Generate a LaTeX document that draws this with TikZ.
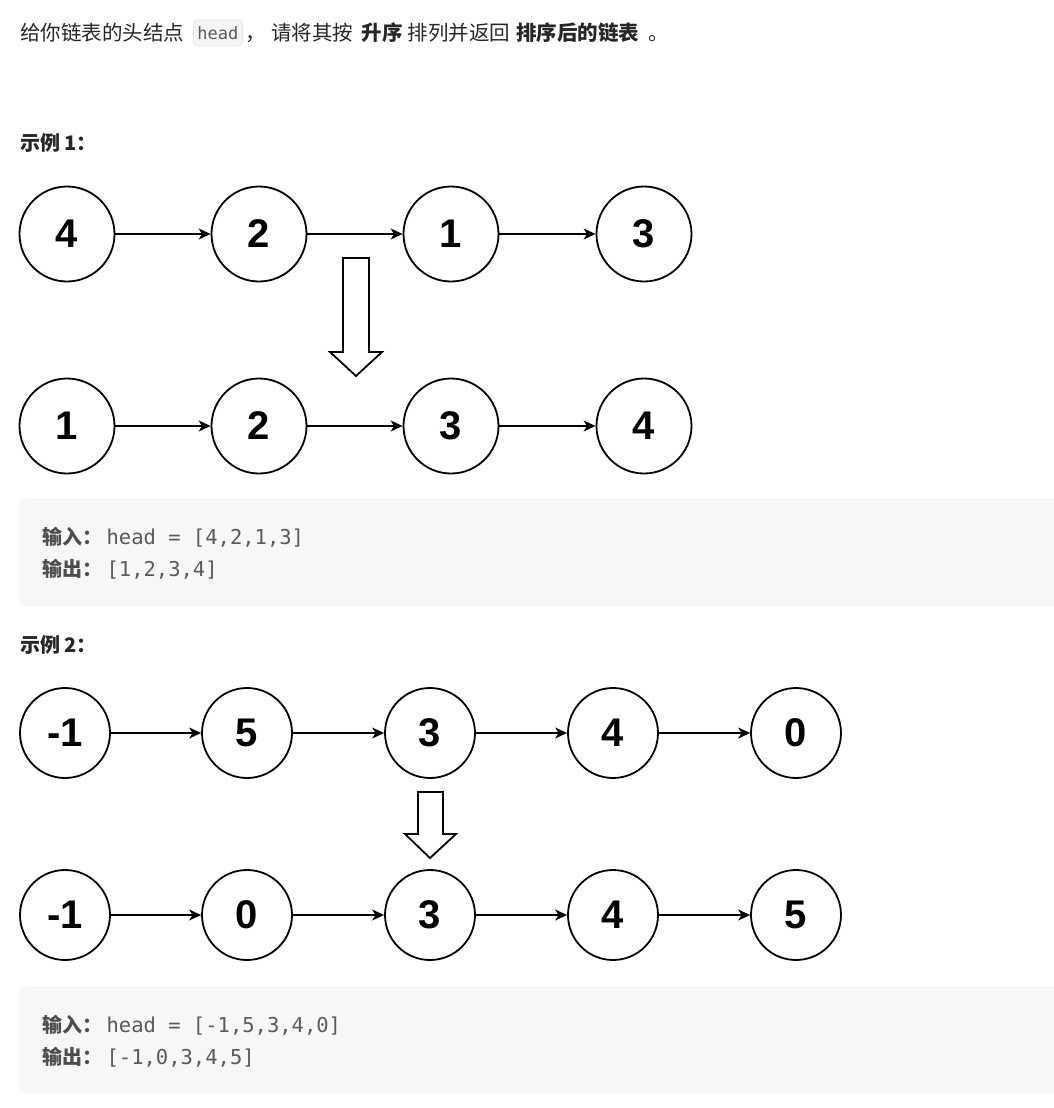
\documentclass[tikz,border=0pt]{standalone}
\usepackage{fontspec}
\setmainfont{Liberation Sans}
\newfontfamily\cjk{Noto Sans CJK SC}
\newfontfamily\mono{DejaVu Sans Mono}
\usetikzlibrary{arrows.meta}
\definecolor{txt}{HTML}{262626}
\definecolor{codegray}{HTML}{5A5A5A}
\definecolor{labgray}{HTML}{4D4D4D}
\definecolor{boxbg}{HTML}{F7F7F7}
\definecolor{codebg}{HTML}{F5F5F5}
\definecolor{codeline}{HTML}{E6E6E6}
\newcommand{\gapx}[1]{\hspace*{#1pt}}
\begin{document}
\begin{tikzpicture}[x=1pt,y=-1pt,
  nodeA/.style={circle,draw=black,line width=1.8pt,minimum size=95pt,inner sep=0pt,
    font=\fontsize{40}{40}\selectfont\bfseries},
  nodeB/.style={nodeA,minimum size=90pt},
  link/.style={line width=1.4pt,-{Stealth[length=12pt,width=11pt,inset=3.5pt]}},
  blockarrow/.style={draw=black,line width=1.8pt,fill=white,line join=miter},
  bodytext/.style={font=\cjk\fontsize{20.5}{20.5}\selectfont,text=txt,inner sep=0pt},
  labeltext/.style={font=\cjk\bfseries\fontsize{20}{20}\selectfont,text=txt,inner sep=0pt},
  codebox/.style={fill=codebg,draw=codeline,line width=0.8pt,rounded corners=4pt,
    font=\mono\fontsize{17}{17}\selectfont,text=codegray,inner xsep=4pt,
    minimum height=26pt,minimum width=49pt,inner ysep=0pt},
  panel/.style={fill=boxbg,draw=none,rounded corners=8pt},
  iotext/.style={inner sep=0pt,text=codegray,font=\mono\fontsize{20.5}{20.5}\selectfont},
  iolabel/.style={inner sep=0pt,text=labgray,font=\cjk\bfseries\fontsize{20}{20}\selectfont}
]
\useasboundingbox[fill=white] (0,0) rectangle (1054,1108);

% title line
\node[bodytext,anchor=base west] (t1) at (20,41) {给你链表的头结点};
\node[codebox,anchor=west] (code) at (193,33) {head};
\node[bodytext,anchor=base west] (t2) at ([xshift=2pt]code.east |- t1.base)
  {，\gapx{6}请将其按\gapx{8}{\bfseries 升序}\gapx{5}排列并返回\gapx{6}{\bfseries 排序后的链表}\gapx{9}。};

% example 1
\node[labeltext,anchor=base west] (ex1) at (20,150) {示例 1：};

\node[nodeA] (a1) at (67,234) {4};
\node[nodeA] (a2) at (259,234) {2};
\node[nodeA] (a3) at (451,234) {1};
\node[nodeA] (a4) at (644,234) {3};
\draw[link] (a1) -- (a2);
\draw[link] (a2) -- (a3);
\draw[link] (a3) -- (a4);

\node[nodeA] (b1) at (67,426) {1};
\node[nodeA] (b2) at (259,426) {2};
\node[nodeA] (b3) at (451,426) {3};
\node[nodeA] (b4) at (644,426) {4};
\draw[link] (b1) -- (b2);
\draw[link] (b2) -- (b3);
\draw[link] (b3) -- (b4);

\draw[blockarrow] (343,258) -- (369,258) -- (369,352) -- (382,352) -- (356,376)
  -- (330,352) -- (343,352) -- cycle;

\fill[panel] (18,498) rectangle (1070,606);
\node[iolabel,anchor=base west] (in1l) at (42,544) {输入：};
\node[iotext,anchor=base west] (in1) at ([xshift=4pt]in1l.base east) {head = [4,2,1,3]};
\node[iolabel,anchor=base west] (out1l) at (42,576) {输出：};
\node[iotext,anchor=base west] (out1) at ([xshift=4pt]out1l.base east) {[1,2,3,4]};

% example 2
\node[labeltext,anchor=base west] (ex2) at (20,652) {示例 2：};

\node[nodeB] (c1) at (65,733) {-1};
\node[nodeB] (c2) at (247,733) {5};
\node[nodeB] (c3) at (430,733) {3};
\node[nodeB] (c4) at (613,733) {4};
\node[nodeB] (c5) at (796,733) {0};
\draw[link] (c1) -- (c2);
\draw[link] (c2) -- (c3);
\draw[link] (c3) -- (c4);
\draw[link] (c4) -- (c5);

\node[nodeB] (d1) at (65,915) {-1};
\node[nodeB] (d2) at (247,915) {0};
\node[nodeB] (d3) at (430,915) {3};
\node[nodeB] (d4) at (613,915) {4};
\node[nodeB] (d5) at (796,915) {5};
\draw[link] (d1) -- (d2);
\draw[link] (d2) -- (d3);
\draw[link] (d3) -- (d4);
\draw[link] (d4) -- (d5);

\draw[blockarrow] (418,792) -- (443,792) -- (443,834) -- (456,834) -- (430,858)
  -- (405,834) -- (418,834) -- cycle;

\fill[panel] (18,986) rectangle (1070,1093);
\node[iolabel,anchor=base west] (in2l) at (42,1032) {输入：};
\node[iotext,anchor=base west] (in2) at ([xshift=4pt]in2l.base east) {head = [-1,5,3,4,0]};
\node[iolabel,anchor=base west] (out2l) at (42,1064) {输出：};
\node[iotext,anchor=base west] (out2) at ([xshift=4pt]out2l.base east) {[-1,0,3,4,5]};
\end{tikzpicture}
\end{document}
